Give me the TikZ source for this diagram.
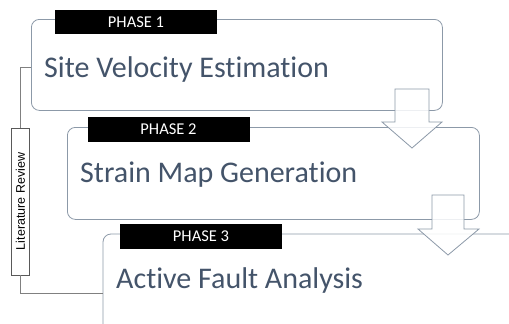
\documentclass[tikz,border=0pt]{standalone}
\usepackage{fontspec}
\setmainfont{Carlito}[Ligatures={NoCommon,NoContextual}]
\newfontfamily\litfont{Liberation Sans}
\definecolor{boxline}{HTML}{8C99A8}
\definecolor{titlecol}{HTML}{44546A}
\definecolor{connline}{HTML}{808080}
\begin{document}
\begin{tikzpicture}[x=1pt,y=-1pt,
  phasebox/.style={draw=boxline, line width=0.8pt, rounded corners=8pt, fill=white, inner sep=0pt, anchor=north west},
  openbox/.style={draw=boxline, line width=0.8pt, rounded corners=8pt},
  phaselabel/.style={fill=black, text=white, font=\fontsize{16.5}{18}\selectfont, minimum width=162pt, minimum height=24.5pt, inner sep=0pt},
  title/.style={text=titlecol, font=\fontsize{30}{36}\selectfont, anchor=base west, inner sep=0pt},
  flowarrow/.style={draw=boxline, line width=0.8pt, fill=white, fill opacity=0.85, line join=miter},
  conn/.style={draw=connline, line width=0.7pt},
  litbox/.style={draw=black!65, fill=white, line width=0.7pt, rotate=90, minimum width=147pt, minimum height=18pt, inner sep=0pt, font=\litfont\fontsize{12.5}{14}\selectfont}]
\useasboundingbox (0,0) rectangle (509,324);
% phase boxes
\node[phasebox, minimum width=411pt, minimum height=91pt] (box1) at (31,19) {};
\node[phasebox, minimum width=412pt, minimum height=92pt] (box2) at (67,127) {};
\coordinate (box3tr) at (509,234);
\coordinate (box3bl) at (103,324);
\coordinate (box3in) at (103,293);
\draw[openbox] (box3tr) -- (103,234) -- (box3bl);
% flow arrows
\draw[flowarrow] (395,89) -- (429,89) -- (429,122) -- (442,122) -- (412,148) -- (382,122) -- (395,122) -- cycle;
\draw[flowarrow] (432,195) -- (464,195) -- (464,229) -- (479,229) -- (448,255) -- (418,229) -- (432,229) -- cycle;
% labels
\node[phaselabel] (p1) at (136,22) {PHASE 1};
\node[phaselabel] (p2) at (168.5,129.5) {PHASE 2};
\node[phaselabel] (p3) at (201,236.5) {PHASE 3};
% titles
\node[title] (t1) at (44,77) {Site Velocity Estimation};
\node[title] (t2) at (80,182) {Strain Map Generation};
\node[title] (t3) at (116,288) {Active Fault Analysis};
% literature review
\node[litbox] (lit) at (20.5,201.5) {Literature Review};
\draw[conn] ([yshift=-2.5pt]box1.west) -| (lit.east);
\draw[conn] (lit.west) |- (box3in);
\end{tikzpicture}
\end{document}
